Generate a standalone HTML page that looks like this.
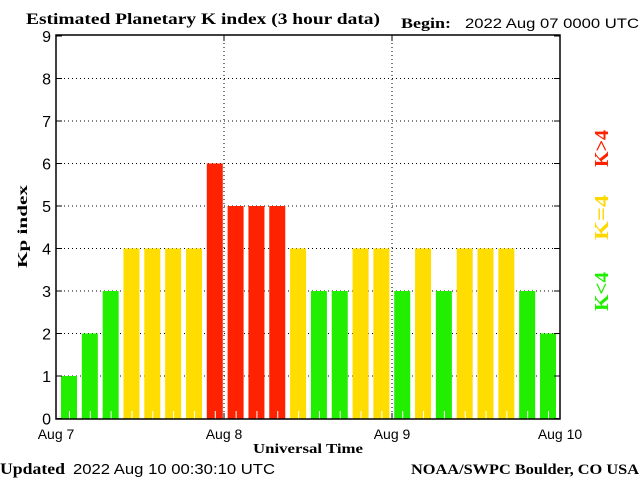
<!DOCTYPE html>
<html><head><meta charset="utf-8"><style>
body{margin:0;background:#fff;width:640px;height:480px;overflow:hidden}
svg{display:block}
.serif{font-family:"Liberation Serif",serif;font-weight:bold}
.sans{font-family:"Liberation Sans",sans-serif}
</style></head><body>
<svg id="chart" width="640" height="480">
<text class="serif" x="26" y="24" font-size="16" textLength="354" lengthAdjust="spacingAndGlyphs">Estimated Planetary K index (3 hour data)</text>
<text class="serif" x="401" y="28" font-size="15" textLength="50" lengthAdjust="spacingAndGlyphs">Begin:</text>
<text class="sans" x="465" y="28" font-size="14" textLength="174" lengthAdjust="spacingAndGlyphs">2022 Aug 07 0000 UTC</text>
<text class="serif" x="0" y="474" font-size="16" textLength="65" lengthAdjust="spacingAndGlyphs">Updated</text>
<text class="sans" x="73" y="474" font-size="15" textLength="202" lengthAdjust="spacingAndGlyphs">2022 Aug 10 00:30:10 UTC</text>
<text class="serif" x="411" y="474" font-size="15" textLength="228" lengthAdjust="spacingAndGlyphs">NOAA/SWPC Boulder, CO USA</text>
<text class="serif" x="253" y="453" font-size="14" textLength="110" lengthAdjust="spacingAndGlyphs">Universal Time</text>
<text class="serif" x="27" y="268" font-size="14" textLength="83" lengthAdjust="spacingAndGlyphs" transform="rotate(-90 27 268)">Kp index</text>
<text class="serif" x="608" y="167" font-size="20" font-weight="normal" fill="#ff2200" textLength="37" lengthAdjust="spacingAndGlyphs" transform="rotate(-90 608 167)">K&gt;4</text>
<text class="serif" x="608" y="240" font-size="20" font-weight="normal" fill="#ffd800" textLength="45" lengthAdjust="spacingAndGlyphs" transform="rotate(-90 608 240)">K=4</text>
<text class="serif" x="608" y="311" font-size="20" font-weight="normal" fill="#22ee00" textLength="39" lengthAdjust="spacingAndGlyphs" transform="rotate(-90 608 311)">K&lt;4</text>
<g id="grid"></g><g id="bars"></g><g id="axes"></g>
</svg>
<script>
const kpValues=[1,2,3,4,4,4,4,6,5,5,5,4,3,3,4,4,3,4,3,4,4,4,3,2];
const yTicks=[0,1,2,3,4,5,6,7,8,9];
const dayLabels=["Aug 7","Aug 8","Aug 9","Aug 10"];
const NS="http://www.w3.org/2000/svg";
const L=56,R=560,T=35,B=419;
const BW=16;
const pitch=(556-61-BW)/(kpValues.length-1);
const xs=i=>61+pitch*i;
const ys=v=>418.5-42.5*v;
function mk(tag,attrs,parent){const e=document.createElementNS(NS,tag);for(const k in attrs)e.setAttribute(k,attrs[k]);document.getElementById(parent).appendChild(e);return e;}
kpValues.forEach((v,i)=>{
 const c=v<4?"#22ee00":(v==4?"#ffdd00":"#ff2200");
 const r=mk("rect",{x:xs(i),y:ys(v),width:BW,height:B-ys(v),fill:c},"bars");
 
 
 const t=mk("line",{x1:xs(i)+8.5,x2:xs(i)+8.5,y1:B-8,y2:B,stroke:"#fff","stroke-width":1},"bars");
 
 
});
yTicks.forEach(v=>{
 const y=ys(v);
 if(v>0&&v<9){const g=mk("line",{x1:L,x2:R,y1:y,y2:y,stroke:"#000","stroke-dasharray":"1,3"},"grid");
  
  }
 mk("line",{x1:L,x2:L+6,y1:y,y2:y,stroke:"#000"},"axes");
 mk("line",{x1:R-6,x2:R,y1:y,y2:y,stroke:"#000"},"axes");
 const t=mk("text",{x:L-5,y:y+6,"font-size":16,"text-anchor":"end","class":"sans"},"axes");
 t.textContent=v;
 
 
});
dayLabels.forEach((d,i)=>{
 const x=L+(R-L)*i/(dayLabels.length-1);
 if(i>0&&i<dayLabels.length-1){const g=mk("line",{x1:x,x2:x,y1:T,y2:B,stroke:"#000","stroke-dasharray":"1,3"},"grid");
  
  
  mk("line",{x1:x,x2:x,y1:T,y2:T+6,stroke:"#000"},"axes");
  mk("line",{x1:x,x2:x,y1:B-6,y2:B,stroke:"#000"},"axes");}
 const t=mk("text",{x:x,y:439,"font-size":14,"text-anchor":"middle","class":"sans"},"axes");
 t.textContent=d;
 
 
});
const f=mk("rect",{x:L,y:T,width:R-L,height:B-T,fill:"none",stroke:"#000","stroke-width":1.5},"axes");


</script>
</body></html>
